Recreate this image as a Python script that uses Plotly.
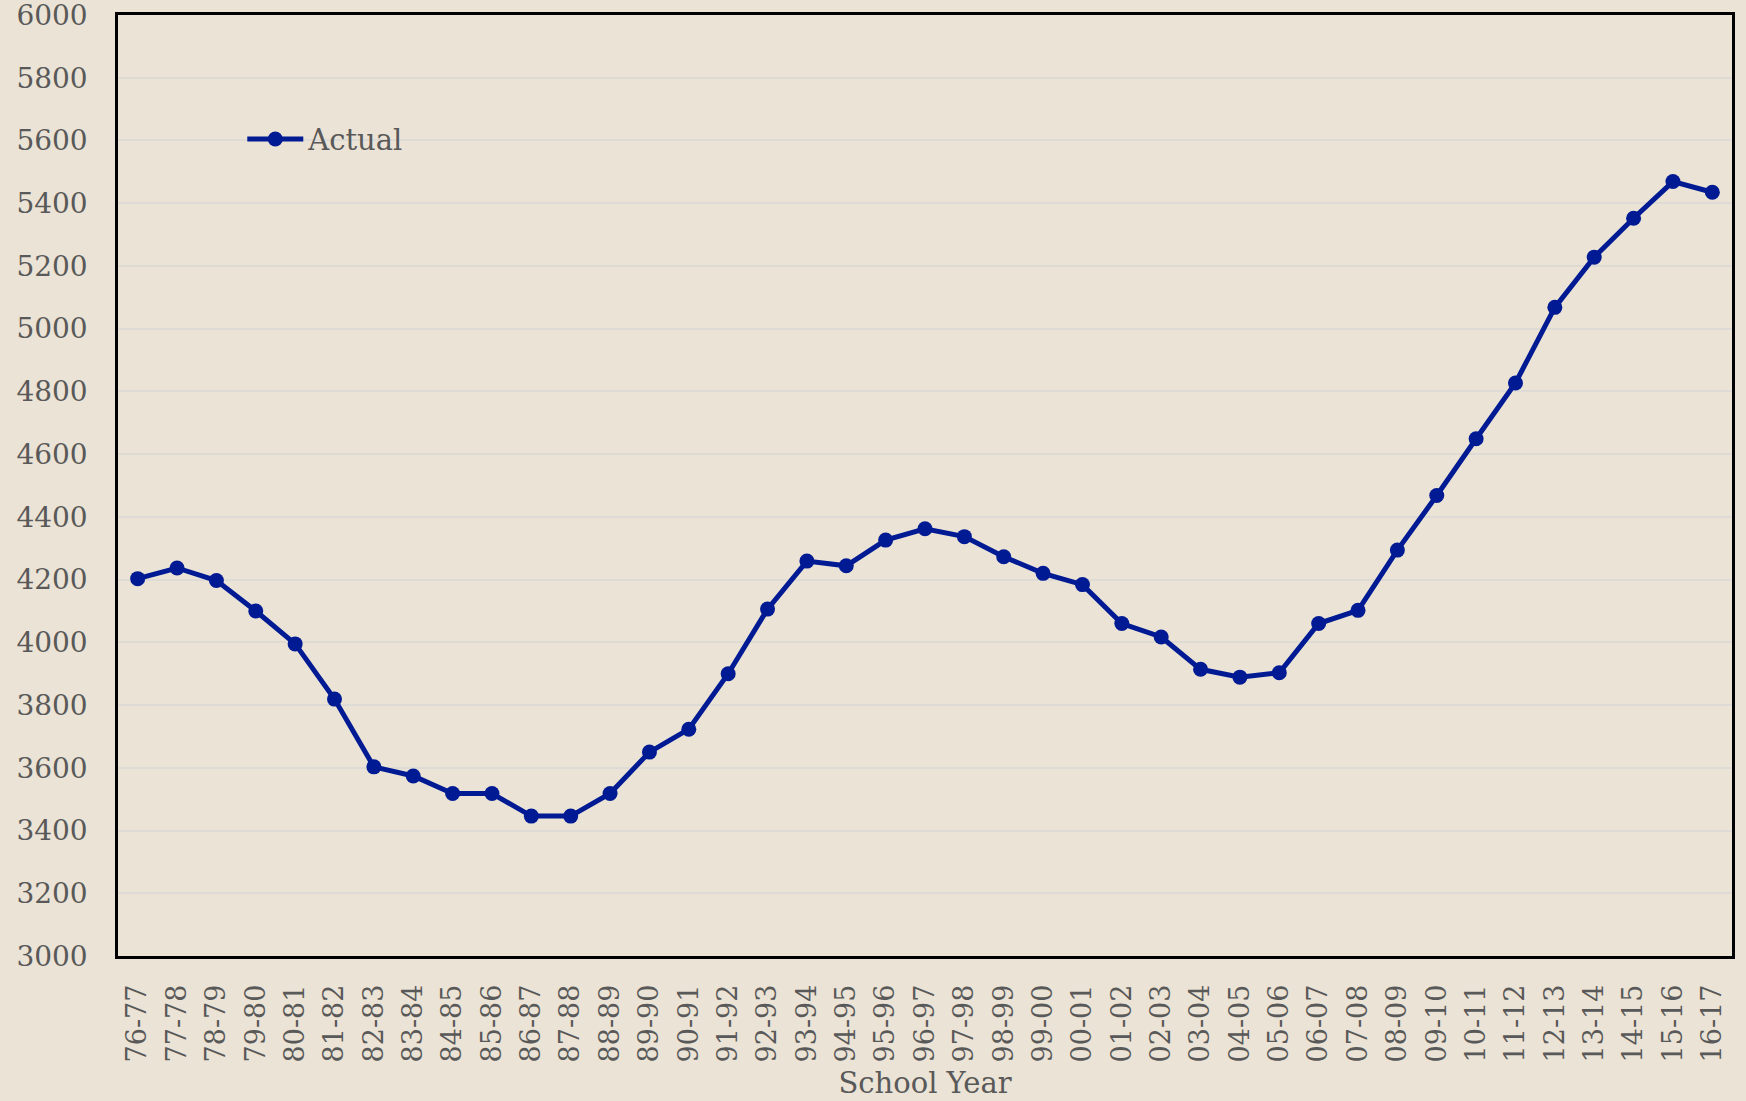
import plotly.graph_objects as go

school_years = ["76-77", "77-78", "78-79", "79-80", "80-81", "81-82", "82-83", "83-84",
                "84-85", "85-86", "86-87", "87-88", "88-89", "89-90", "90-91", "91-92",
                "92-93", "93-94", "94-95", "95-96", "96-97", "97-98", "98-99", "99-00",
                "00-01", "01-02", "02-03", "03-04", "04-05", "05-06", "06-07", "07-08",
                "08-09", "09-10", "10-11", "11-12", "12-13", "13-14", "14-15", "15-16",
                "16-17"]
actual = [4203, 4237, 4197, 4100, 3995, 3819, 3603, 3574, 3518, 3518, 3446, 3446,
          3518, 3650, 3723, 3900, 4106, 4259, 4244, 4326, 4362, 4337, 4273, 4220,
          4184, 4060, 4017, 3914, 3889, 3903, 4060, 4102, 4294, 4468, 4649, 4827,
          5068, 5228, 5352, 5469, 5435]

y_ticks = list(range(3000, 6001, 200))

FONT = "Georgia, 'DejaVu Serif', serif"
TXT = "#595959"
BG = "#EBE3D5"

fig = go.Figure()
fig.add_trace(go.Scatter(
    x=school_years, y=actual, name="Actual", mode="lines+markers",
    line=dict(color="#001A94", width=5),
    marker=dict(color="#001A94", size=15),
))

fig.update_layout(
    width=1746, height=1101,
    paper_bgcolor=BG, plot_bgcolor=BG,
    margin=dict(l=118, r=14, t=15, b=145),
    font=dict(family=FONT, color=TXT, size=28),
    showlegend=True,
    legend=dict(x=0.077, y=0.868, xanchor="left", yanchor="middle", itemwidth=56,
                bgcolor="rgba(0,0,0,0)", font=dict(size=29, color=TXT, family=FONT)),
    xaxis=dict(
        type="category", range=[-0.5, len(school_years) - 0.5],
        tickangle=-90, showgrid=False, automargin=False,
        showline=True, linecolor="black", linewidth=2.5, mirror=True,
        ticks="", ticklabelstandoff=15, ticklabeloverflow="allow",
        tickfont=dict(size=27, color=TXT, family=FONT),
        title=dict(text="School Year", font=dict(size=29, color=TXT, family=FONT), standoff=12),
    ),
    yaxis=dict(
        range=[3000, 6000], tickvals=y_ticks, ticktext=[str(v) for v in y_ticks],
        showgrid=True, gridcolor="#DEDBD6", gridwidth=1.5, automargin=False,
        showline=True, linecolor="black", linewidth=2.5, mirror=True,
        ticks="", ticklabelstandoff=22, zeroline=False, ticklabeloverflow="allow",
        tickfont=dict(size=28, color=TXT, family=FONT),
    ),
)

fig.write_html("out.html", config={"displayModeBar": False},
               post_script="document.body.style.margin='0';")
